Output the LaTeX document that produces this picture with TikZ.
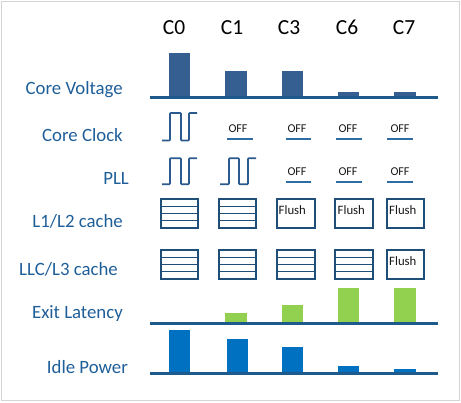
\documentclass[tikz,border=0pt]{standalone}
\usepackage{fontspec}
\setmainfont{Carlito}
\definecolor{lbl}{HTML}{1F5F99}
\definecolor{volt}{HTML}{365F91}
\definecolor{axis}{HTML}{1F5A8C}
\definecolor{wave}{HTML}{2A5A8E}
\definecolor{boxc}{HTML}{1F4E79}
\definecolor{lat}{HTML}{92D050}
\definecolor{pwr}{HTML}{0070C0}
\definecolor{offc}{HTML}{2E6DA4}
\definecolor{frame}{HTML}{D4D4D4}
\tikzset{
  hdr/.style={anchor=base,inner sep=0pt,font=\fontsize{21.5}{21.5}\selectfont,text=black},
  lab/.style={anchor=base east,inner sep=0pt,font=\fontsize{18.8}{18.8}\selectfont,text=lbl},
  offt/.style={anchor=base,inner sep=0pt,font=\fontsize{12}{12}\selectfont,text=black!90},
  offl/.style={draw=offc,line width=1.8pt},
  axisline/.style={draw=axis,line width=3pt},
  wavel/.style={draw=wave,line width=1.6pt,rounded corners=0.8pt},
  cbox/.style={draw=boxc,line width=2pt},
  cline/.style={draw=boxc,line width=1.4pt},
  flusht/.style={anchor=base west,inner sep=0pt,font=\fontsize{12.8}{12.8}\selectfont,text=black!90},
}
\begin{document}
\begin{tikzpicture}[x=1pt,y=-1pt]
\useasboundingbox (0,0) rectangle (461,403);
\fill[white] (0,0) rectangle (461,403);
\draw[frame,line width=1pt] (1.5,1.5) rectangle (459,401);
% headers
\node[hdr] (h0) at (174,35) {C0};
\node[hdr] (h1) at (232,35) {C1};
\node[hdr] (h3) at (289,35) {C3};
\node[hdr] (h6) at (347,35) {C6};
\node[hdr] (h7) at (404,35) {C7};
% labels
\node[lab] (lv) at (123,95) {Core Voltage};
\node[lab] (lc) at (123,141.5) {Core Clock};
\node[lab] (lp) at (129,185) {PLL};
\node[lab] (l12) at (123,228) {L1/L2 cache};
\node[lab] (l3) at (118,276) {LLC/L3 cache};
\node[lab] (le) at (123,319) {Exit Latency};
\node[lab] (li) at (128,374) {Idle Power};
% core voltage
\fill[volt] (169,53) rectangle (190,97);
\fill[volt] (225,71) rectangle (247,97);
\fill[volt] (282,71) rectangle (303,97);
\fill[volt] (338,92) rectangle (359,97);
\fill[volt] (394,92) rectangle (416,97);
\draw[axisline] (150,97.5) -- (438,97.5);
% core clock
\draw[wavel] (162,140.5) -- (170,140.5) -- (170,113) -- (181,113) -- (181,140.5) -- (189,140.5) -- (189,113) -- (197,113);
\node[offt] (o1) at (238,132.3) {OFF};
\draw[offl] (227,138.7) -- (253,138.7);
\node[offt] (o3) at (297,132.3) {OFF};
\draw[offl] (286,138.7) -- (311,138.7);
\node[offt] (o6) at (348,132.3) {OFF};
\draw[offl] (336,138.7) -- (362,138.7);
\node[offt] (o7) at (400,132.3) {OFF};
\draw[offl] (387,138.7) -- (413,138.7);
% PLL
\draw[wavel] (162,184.3) -- (170,184.3) -- (170,158.3) -- (181,158.3) -- (181,184.3) -- (189,184.3) -- (189,158.3) -- (197,158.3);
\draw[wavel] (220,184.3) -- (229,184.3) -- (229,158.3) -- (239,158.3) -- (239,184.3) -- (248,184.3) -- (248,158.3) -- (256,158.3);
\node[offt] (p3) at (297,176) {OFF};
\draw[offl] (286,182.3) -- (311,182.3);
\node[offt] (p6) at (348,176) {OFF};
\draw[offl] (336,182.3) -- (362,182.3);
\node[offt] (p7) at (400,176) {OFF};
\draw[offl] (387,182.3) -- (413,182.3);
% L1/L2 cache
\foreach \a/\b in {161/198,219/256}{
  \draw[cline] (\a,206.25) -- (\b,206.25) (\a,213.5) -- (\b,213.5) (\a,220.75) -- (\b,220.75);
  \draw[cbox] (\a,199) rectangle (\b,228);
}
\draw[cbox] (277,199) rectangle (315,228);
\draw[cbox] (335,199) rectangle (373,228);
\draw[cbox] (387,199) rectangle (424,228);
\node[flusht] (f3) at (278.5,214.5) {Flush};
\node[flusht] (f6) at (337.5,214.5) {Flush};
\node[flusht] (f7) at (389,214.5) {Flush};
% LLC/L3 cache
\foreach \a/\b in {161/198,219/256,277/315,335/373}{
  \draw[cline] (\a,257.25) -- (\b,257.25) (\a,264.5) -- (\b,264.5) (\a,271.75) -- (\b,271.75);
  \draw[cbox] (\a,250) rectangle (\b,279);
}
\draw[cbox] (387,250) rectangle (424,279);
\node[flusht] (g7) at (389,266) {Flush};
% exit latency
\fill[lat] (225,313) rectangle (247,323);
\fill[lat] (282,305) rectangle (303,323);
\fill[lat] (338,288) rectangle (359,323);
\fill[lat] (394,288) rectangle (416,323);
\draw[axisline] (150,323.5) -- (438,323.5);
% idle power
\fill[pwr] (169,330) rectangle (190,373);
\fill[pwr] (227,339) rectangle (248,373);
\fill[pwr] (282,347) rectangle (303,373);
\fill[pwr] (338,366) rectangle (359,373);
\fill[pwr] (394,369) rectangle (416,373);
\draw[axisline] (150,373.5) -- (438,373.5);
\end{tikzpicture}
\end{document}
